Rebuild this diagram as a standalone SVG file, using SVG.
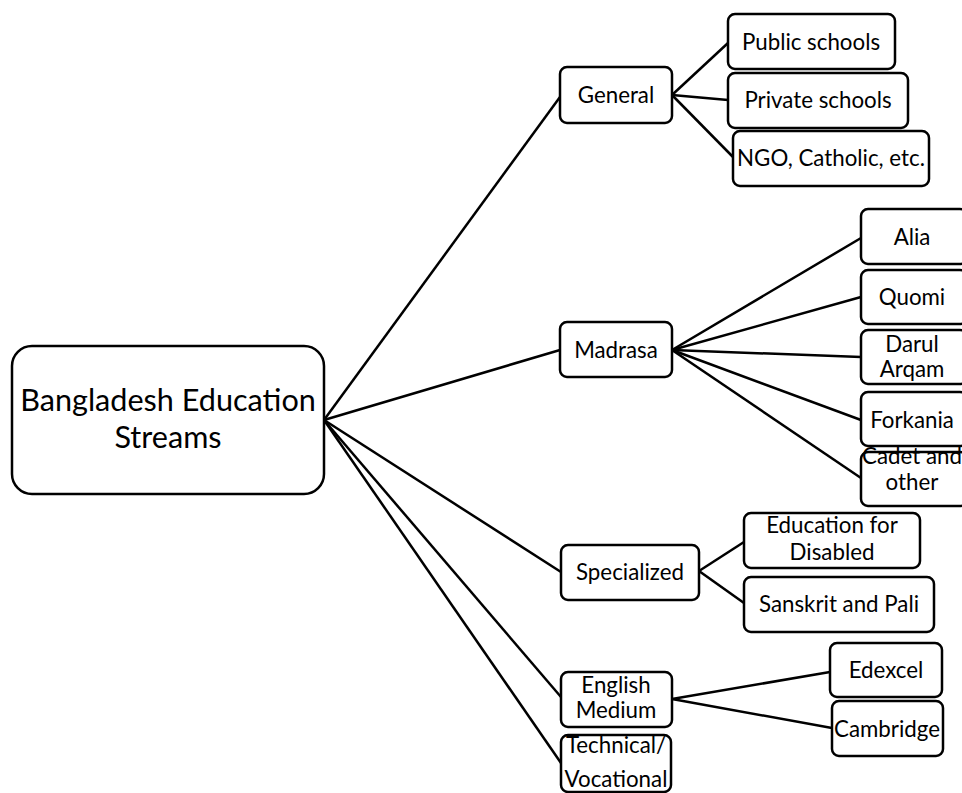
<svg xmlns="http://www.w3.org/2000/svg" width="962" height="793" viewBox="0 0 962 793">
<style>
rect{fill:#fff;stroke:#000;stroke-width:2.5}
text{font-family:Lato,"Liberation Sans",sans-serif;font-size:22.3px;fill:#000;text-anchor:middle}
.big{font-size:30.6px}
#connectors line{stroke:#000;stroke-width:2.5}
</style>
<rect x="0" y="0" width="962" height="793" style="stroke:none"/>
<g id="connectors">
<line x1="324" y1="420" x2="560" y2="97"/>
<line x1="324" y1="420" x2="560" y2="350"/>
<line x1="324" y1="420" x2="561" y2="572"/>
<line x1="324" y1="420" x2="561" y2="697"/>
<line x1="324" y1="420" x2="561" y2="763"/>
<line x1="672" y1="95" x2="728" y2="43"/>
<line x1="672" y1="95" x2="728" y2="100"/>
<line x1="672" y1="95" x2="733" y2="157"/>
<line x1="672" y1="350" x2="861" y2="238"/>
<line x1="672" y1="350" x2="861" y2="297"/>
<line x1="672" y1="350" x2="861" y2="357"/>
<line x1="672" y1="350" x2="861" y2="420"/>
<line x1="672" y1="350" x2="861" y2="478"/>
<line x1="699" y1="571" x2="744" y2="542"/>
<line x1="699" y1="571" x2="744" y2="603"/>
<line x1="672" y1="699" x2="830" y2="672"/>
<line x1="672" y1="699" x2="832" y2="728"/>
</g>
<g id="root"><rect x="12" y="346" width="312" height="148" rx="20"/><text class="big" x="168" y="411">Bangladesh Education</text><text class="big" x="168" y="448">Streams</text></g>
<g id="general"><rect x="560" y="67" width="112" height="56" rx="7"/><text x="616" y="103">General</text></g>
<g id="public"><rect x="728" y="14" width="167" height="55" rx="7"/><text x="811" y="50">Public schools</text></g>
<g id="private"><rect x="728" y="73" width="180" height="55" rx="7"/><text x="818" y="108">Private schools</text></g>
<g id="ngo"><rect x="733" y="131" width="196" height="55" rx="7"/><text x="831" y="166">NGO, Catholic, etc.</text></g>
<g id="madrasa"><rect x="560" y="322" width="112" height="55" rx="7"/><text x="616" y="358">Madrasa</text></g>
<g id="alia"><rect x="861" y="209" width="106" height="55" rx="7"/><text x="912" y="245">Alia</text></g>
<g id="quomi"><rect x="861" y="270" width="106" height="54" rx="7"/><text x="912" y="305">Quomi</text></g>
<g id="darul"><rect x="861" y="330" width="106" height="54" rx="7"/><text x="912" y="352">Darul</text><text x="912" y="377">Arqam</text></g>
<g id="forkania"><rect x="861" y="392" width="106" height="54" rx="7"/><text x="912" y="428">Forkania</text></g>
<g id="cadet"><rect x="861" y="452" width="106" height="54" rx="7"/><text x="912" y="464">Cadet and</text><text x="912" y="490">other</text></g>
<g id="specialized"><rect x="561" y="545" width="138" height="55" rx="7"/><text x="630" y="580">Specialized</text></g>
<g id="disabled"><rect x="744" y="513" width="176" height="55" rx="7"/><text x="832" y="533">Education for</text><text x="832" y="560">Disabled</text></g>
<g id="sanskrit"><rect x="744" y="577" width="190" height="55" rx="7"/><text x="839" y="612">Sanskrit and Pali</text></g>
<g id="english"><rect x="561" y="672" width="111" height="55" rx="7"/><text x="616" y="693">English</text><text x="616" y="718">Medium</text></g>
<g id="edexcel"><rect x="830" y="643" width="112" height="54" rx="7"/><text x="886" y="678">Edexcel</text></g>
<g id="cambridge"><rect x="832" y="701" width="111" height="55" rx="7"/><text x="887" y="737">Cambridge</text></g>
<g id="technical"><rect x="561" y="735" width="110" height="57" rx="7"/><text x="616" y="753">Technical/</text><text x="616" y="787">Vocational</text></g>
</svg>
